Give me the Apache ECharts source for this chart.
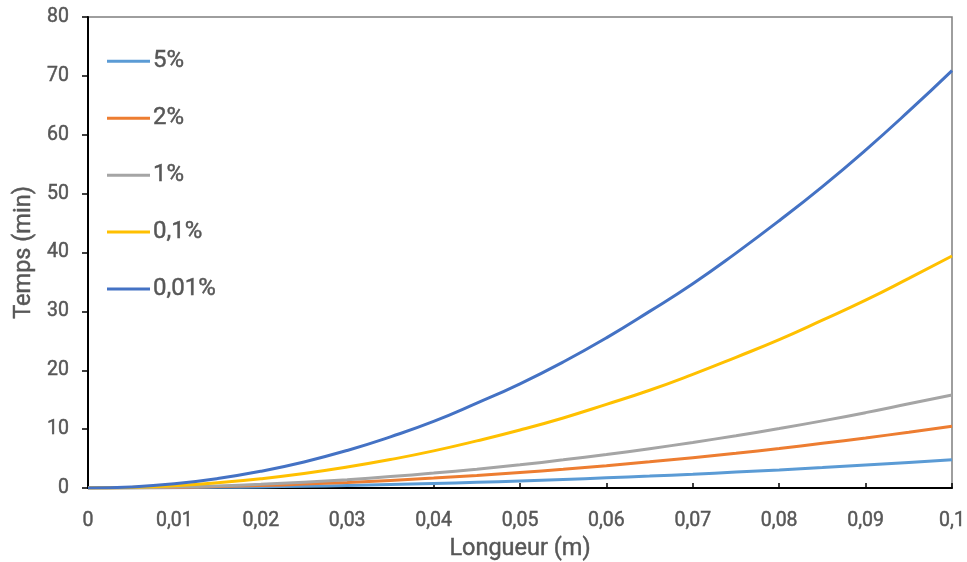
<!DOCTYPE html>
<html>
<head>
<meta charset="utf-8">
<script src="https://cdn.jsdelivr.net/npm/echarts@6/dist/echarts.min.js"></script>
<style>
html,body{margin:0;padding:0;background:#fff;}
#chart{width:967px;height:562px;}
</style>
</head>
<body>
<div id="chart"></div>
<script>
// Longueur (m)
var lengths = [0, 0.005, 0.01, 0.015, 0.02, 0.025, 0.03, 0.035, 0.04, 0.045, 0.05, 0.055, 0.06, 0.065, 0.07, 0.075, 0.08, 0.085, 0.09, 0.095, 0.1];
var seriesNames = ['5%', '2%', '1%', '0,1%', '0,01%'];
// Temps (min)
var t5 = [0, 0.01, 0.05, 0.11, 0.19, 0.3, 0.43, 0.59, 0.77, 0.97, 1.2, 1.45, 1.72, 2.02, 2.35, 2.7, 3.07, 3.47, 3.89, 4.33, 4.8];
var t2 = [0, 0.03, 0.1, 0.24, 0.42, 0.66, 0.95, 1.29, 1.68, 2.13, 2.63, 3.18, 3.78, 4.44, 5.15, 5.9, 6.72, 7.59, 8.5, 9.48, 10.5];
var t1 = [0, 0.04, 0.16, 0.36, 0.63, 0.99, 1.42, 1.94, 2.53, 3.2, 3.95, 4.78, 5.69, 6.68, 7.74, 8.89, 10.1, 11.4, 12.8, 14.3, 15.8];
var t01 = [0, 0.1, 0.39, 0.89, 1.58, 2.46, 3.55, 4.83, 6.3, 8.0, 9.85, 11.9, 14.2, 16.6, 19.3, 22.2, 25.2, 28.5, 31.9, 35.6, 39.4];
var t001 = [0, 0.18, 0.71, 1.6, 2.84, 4.43, 6.38, 8.69, 11.3, 14.4, 17.7, 21.4, 25.5, 30.0, 34.7, 39.9, 45.4, 51.2, 57.4, 64.0, 70.9];
var colors = ['#5B9BD5', '#ED7D31', '#A5A5A5', '#FFC000', '#4472C4'];
var xTicks = { min: 0, max: 0.1, interval: 0.01 };
var yTicks = { min: 0, max: 80, interval: 10 };

var allData = [t5, t2, t1, t01, t001];
function pairs(arr) { return lengths.map(function (x, i) { return [x, arr[i]]; }); }

var chart = echarts.init(document.getElementById('chart'), null, { renderer: 'canvas' });
var font = 'Roboto, "Noto Sans", sans-serif';
var txt = '#575757';
function ts(size) {
  return { fontFamily: font, fontSize: size, color: txt, textBorderColor: txt, textBorderWidth: 0.45 };
}
chart.setOption({
  animation: false,
  color: colors,
  grid: { left: 88, right: 15, top: 17, bottom: 74, outerBoundsMode: 'none', containLabel: false, show: true, borderColor: '#7f7f7f', borderWidth: 1.5, backgroundColor: 'transparent' },
  legend: {
    orient: 'vertical', left: 102, top: 44,
    icon: 'rect', itemWidth: 43, itemHeight: 3, itemGap: 32.5,
    textStyle: Object.assign(ts(24), { padding: [0, 0, 0, -2], lineHeight: 22 }),
    data: seriesNames
  },
  xAxis: {
    type: 'value', min: xTicks.min, max: xTicks.max, interval: xTicks.interval,
    name: 'Longueur (m)', nameLocation: 'middle', nameGap: 49,
    nameTextStyle: ts(23.5),
    axisLine: { show: true, lineStyle: { color: '#000', width: 2 } },
    axisTick: { show: true, inside: true, length: 5, lineStyle: { color: '#000', width: 1.5 } },
    axisLabel: Object.assign(ts(19.5), { margin: 23,
      formatter: function (v) { return String(+v.toFixed(2)).replace('.', ','); } }),
    splitLine: { show: false }
  },
  yAxis: {
    type: 'value', min: yTicks.min, max: yTicks.max, interval: yTicks.interval,
    name: 'Temps (min)', nameLocation: 'middle', nameGap: 50, nameRotate: 90,
    nameTextStyle: ts(23.5),
    axisLine: { show: true, lineStyle: { color: '#000', width: 2 } },
    axisTick: { show: true, inside: false, length: 6, lineStyle: { color: '#000', width: 1.5 } },
    axisLabel: Object.assign(ts(19.5), { margin: 19 }),
    splitLine: { show: false }
  },
  series: seriesNames.map(function (n, i) {
    return {
      name: n, type: 'line', data: pairs(allData[i]), smooth: true,
      showSymbol: false, symbol: 'none', lineStyle: { width: 3, color: colors[i] }, z: 2 + i
    };
  })
});
</script>
</body>
</html>
